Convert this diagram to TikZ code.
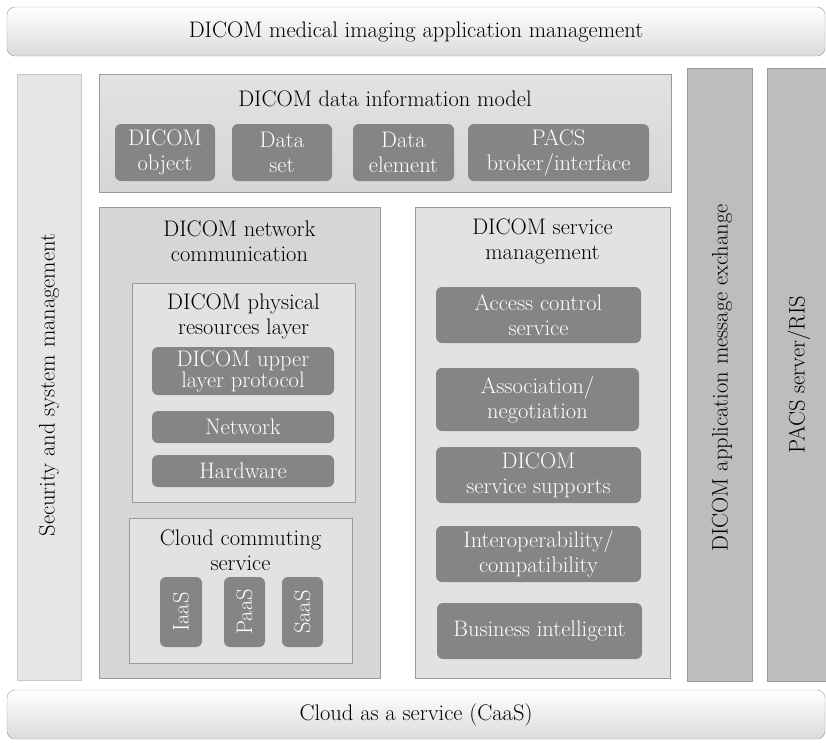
\documentclass[tikz,border=0pt]{standalone}
\usepackage{tikz}

\definecolor{edgegray}{HTML}{9A9A9A}
\definecolor{lightedge}{HTML}{C8C8C8}
\definecolor{darkbox}{HTML}{858587}
\definecolor{columngray}{HTML}{BDBDBF}
\definecolor{sidegray}{HTML}{E6E6E7}
\definecolor{panelgray}{HTML}{D6D6D7}
\definecolor{innergray}{HTML}{E2E2E3}

\begin{document}
\begin{tikzpicture}[x=1pt,y=-1pt,font=\fontsize{22.5}{25}\selectfont]
\tikzset{bar/.style={draw=edgegray, rounded corners=8pt, top color=white, bottom color=gray!28, inner sep=0pt},
  side/.style={draw=lightedge, fill=sidegray, inner sep=0pt},
  column/.style={draw=edgegray, fill=columngray, inner sep=0pt},
  panel/.style={draw=edgegray, fill=panelgray, inner sep=0pt},
  inner/.style={draw=edgegray, fill=innergray, inner sep=0pt},
  item/.style={fill=darkbox, rounded corners=6pt, text=white, align=center, inner sep=0pt},
  title/.style={align=center, inner sep=0pt}}
\useasboundingbox (0,0) rectangle (826,742);
% top and bottom bars
\node[bar, minimum width=818pt, minimum height=49pt] (app) at (416,31.5) {DICOM medical imaging application management};
\node[bar, minimum width=818pt, minimum height=49pt] (caas) at (416,714.5) {Cloud as a service (CaaS)};
% side columns
\node[side, minimum width=64pt, minimum height=606pt] (sec) at (49,377) {};
\node[rotate=90, inner sep=0pt] (sectext) at (49,385) {Security and system management};
\node[column, minimum width=65pt, minimum height=613pt] (msg) at (719.5,374.5) {};
\node[rotate=90, inner sep=0pt] (msgtext) at (722,378) {DICOM application message exchange};
\node[column, minimum width=62pt, minimum height=613pt] (pacs) at (798,374.5) {};
\node[rotate=90, inner sep=0pt] (pacstext) at (799,375) {PACS server/RIS};
% data information model
\node[panel, top color=innergray, bottom color=panelgray, minimum width=572pt, minimum height=118pt] (model) at (385,133) {};
\node[title] (modeltitle) at (385,99) {DICOM data information model};
\node[item, minimum width=100pt, minimum height=57pt] (obj) at (165,152.5) {DICOM\\object};
\node[item, minimum width=100pt, minimum height=57pt] (set) at (282,152.5) {Data\\set};
\node[item, minimum width=101pt, minimum height=57pt] (elem) at (403.5,152.5) {Data\\element};
\node[item, minimum width=181pt, minimum height=57pt] (broker) at (558.5,152.5) {PACS\\broker/interface};
% network communication
\node[panel, minimum width=281pt, minimum height=471pt] (net) at (239.5,442.5) {};
\node[title] (nettitle) at (239.5,241) {DICOM network\\communication};
\node[inner, minimum width=223pt, minimum height=219pt] (phys) at (243.5,392.5) {};
\node[title] (phystitle) at (243.5,316) {DICOM physical\\resources layer};
\node[item, minimum width=182pt, minimum height=48pt, font=\fontsize{22.5}{20}\selectfont] (upper) at (243,371) {DICOM upper\\layer protocol};
\node[item, minimum width=182pt, minimum height=32pt] (network) at (243,427) {Network};
\node[item, minimum width=182pt, minimum height=32pt] (hw) at (243,471) {Hardware};
\node[inner, minimum width=223pt, minimum height=145pt] (cloud) at (240.5,590.5) {};
\node[title] (cloudtitle) at (240.5,550) {Cloud commuting\\service};
\node[item, minimum width=42pt, minimum height=70pt] (iaas) at (181,612) {};
\node[text=white, rotate=90, inner sep=0pt] (iaastext) at (iaas) {IaaS};
\node[item, minimum width=41pt, minimum height=70pt] (paas) at (244.5,612) {};
\node[text=white, rotate=90, inner sep=0pt] (paastext) at (paas) {PaaS};
\node[item, minimum width=41pt, minimum height=70pt] (saas) at (302.5,612) {};
\node[text=white, rotate=90, inner sep=0pt] (saastext) at (saas) {SaaS};
% service management
\node[inner, minimum width=255pt, minimum height=471pt] (serv) at (542.5,442.5) {};
\node[title] (servtitle) at (542.5,241) {DICOM service\\management};
\node[item, minimum width=205pt, minimum height=56pt] (access) at (538.5,315) {Access control\\service};
\node[item, minimum width=203pt, minimum height=63pt] (assoc) at (537.5,399.5) {Association/\\negotiation};
\node[item, minimum width=205pt, minimum height=56pt] (support) at (538.5,475) {DICOM\\service supports};
\node[item, minimum width=205pt, minimum height=56pt] (interop) at (538.5,554) {Interoperability/\\compatibility};
\node[item, minimum width=205pt, minimum height=56pt] (bi) at (539.5,631) {Business intelligent};
\end{tikzpicture}
\end{document}
